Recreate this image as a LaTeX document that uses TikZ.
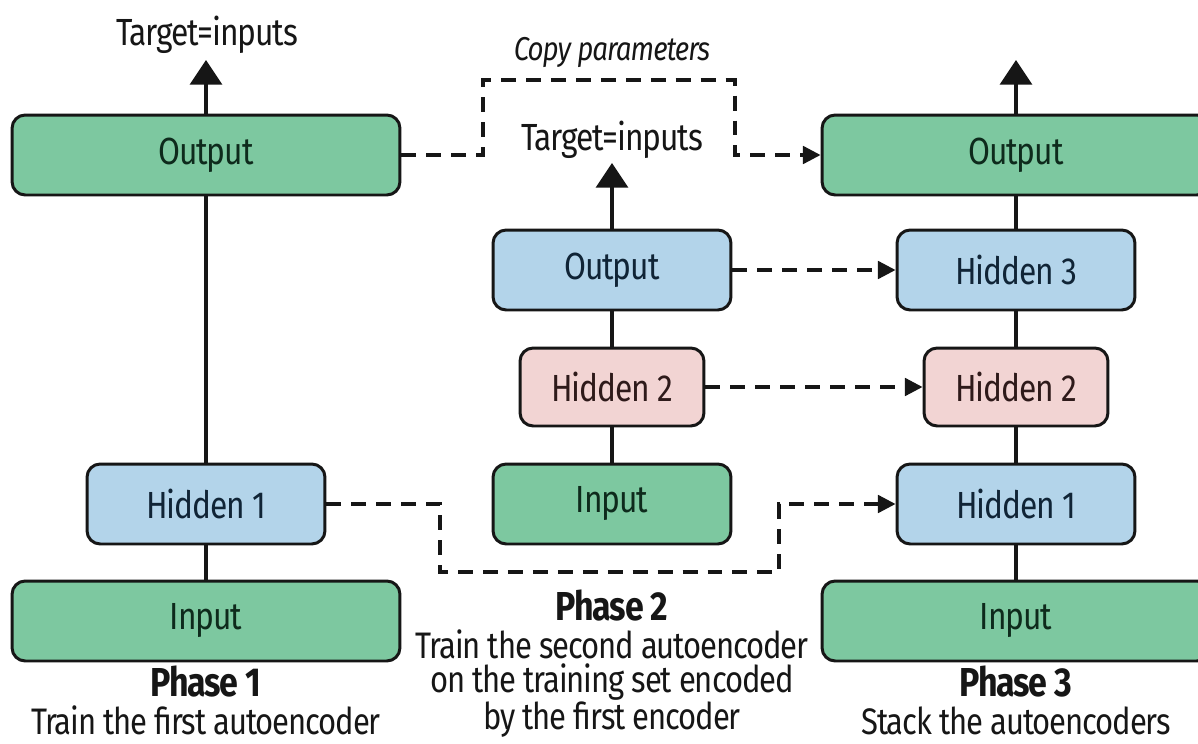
\documentclass[tikz,border=0pt]{standalone}
\usepackage{fontspec}
\setmainfont{Fira Sans}[FakeStretch=0.84,LetterSpace=-3]
\usetikzlibrary{arrows.meta}
\definecolor{ink}{HTML}{161616}
\definecolor{greenfill}{HTML}{7DC8A0}
\definecolor{bluefill}{HTML}{B3D4EA}
\definecolor{pinkfill}{HTML}{F2D4D3}
\definecolor{greentext}{HTML}{0E2A1C}
\definecolor{bluetext}{HTML}{102436}
\definecolor{pinktext}{HTML}{2E1A1A}

\begin{document}
\begin{tikzpicture}[x=0.02cm,y=-0.02cm,every node/.style={font=\fontsize{21.5}{20}\selectfont,align=center,text=ink},
  layer/.style={draw=ink,line width=1.7pt,rounded corners=7.5pt,inner sep=0pt,minimum height=1.6cm},
  widegreen/.style={layer,fill=greenfill,text=greentext,minimum width=7.76cm},
  greenbox/.style={layer,fill=greenfill,text=greentext,minimum width=4.76cm},
  bluebox/.style={layer,fill=bluefill,text=bluetext,minimum width=4.76cm},
  pinkbox/.style={layer,fill=pinkfill,text=pinktext,minimum width=3.68cm,minimum height=1.56cm},
  link/.style={draw=ink,line width=2.3pt},
  uparrow/.style={link,-{Triangle[length=14pt,width=18pt]}},
  copyarrow/.style={draw=ink,line width=1.8pt,dash pattern=on 8.5pt off 5.7pt,-{Triangle[length=10pt,width=10pt]}},
  phase/.style={anchor=north,inner sep=0pt,font=\fontsize{21}{19}\selectfont}]
\useasboundingbox[fill=white] (0,0) rectangle (1198,744);
% phase 1
\node[widegreen] (lout) at (206,155) {Output};
\node[bluebox] (lhid1) at (206,504) {Hidden 1};
\node[widegreen] (lin) at (206,621) {Input};
\coordinate (ltip) at (206,60);
\node (ltarget) at (207,35) {Target=inputs};
\draw[link] (lin) -- (lhid1);
\draw[link] (lhid1) -- (lout);
\draw[uparrow] (lout) -- (ltip);
\node[phase] (ph1) at (206,666) {{\bfseries\fontsize{23}{19}\selectfont Phase 1}\\[2.5pt]Train the first autoencoder};
% phase 2
\node[bluebox] (mout) at (612,270) {Output};
\node[pinkbox] (mhid2) at (612,387) {Hidden 2};
\node[greenbox] (min) at (612,504) {Input};
\coordinate (mtip) at (612,163);
\node (mtarget) at (612,140) {Target=inputs};
\draw[link] (min) -- (mhid2);
\draw[link] (mhid2) -- (mout);
\draw[uparrow] (mout) -- (mtip);
\node[phase] (ph2) at (612,590) {{\bfseries\fontsize{23}{19}\selectfont Phase 2}\\[2.5pt]Train the second autoencoder\\on the training set encoded\\by the first encoder};
% phase 3
\node[widegreen] (rout) at (1016,155) {Output};
\node[bluebox] (rhid3) at (1016,270) {Hidden 3};
\node[pinkbox] (rhid2) at (1016,387) {Hidden 2};
\node[bluebox] (rhid1) at (1016,504) {Hidden 1};
\node[widegreen] (rin) at (1016,621) {Input};
\coordinate (rtip) at (1016,60);
\draw[link] (rin) -- (rhid1);
\draw[link] (rhid1) -- (rhid2);
\draw[link] (rhid2) -- (rhid3);
\draw[link] (rhid3) -- (rout);
\draw[uparrow] (rout) -- (rtip);
\node[phase] (ph3) at (1016,666) {{\bfseries\fontsize{23}{19}\selectfont Phase 3}\\[2.5pt]Stack the autoencoders};
% copy parameters
\coordinate (cp1) at (483,80);
\coordinate (cp2) at (735,80);
\node[font=\itshape\fontsize{18.8}{18}\selectfont] (copy) at (612,52) {Copy parameters};
\draw[copyarrow] (lout.east) -| (cp1) -- (cp2) |- (rout.west);
\draw[copyarrow] (mout.east) -- (rhid3.west);
\draw[copyarrow] (mhid2.east) -- (rhid2.west);
\coordinate (hp1) at (440,572);
\coordinate (hp2) at (779,572);
\draw[copyarrow] (lhid1.east) -| (hp1) -- (hp2) |- (rhid1.west);
\end{tikzpicture}
\end{document}
